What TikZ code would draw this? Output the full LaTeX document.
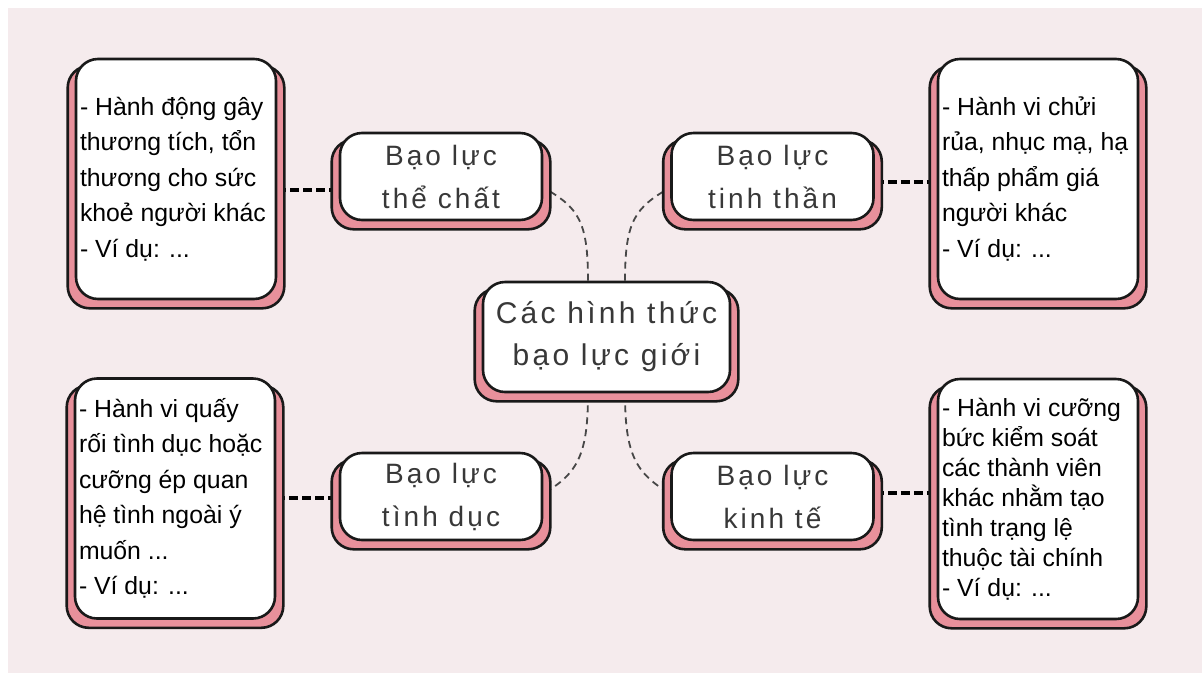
\documentclass[tikz,border=0pt]{standalone}
\usepackage{fontspec}
\setmainfont{Liberation Sans}
\newfontfamily\headfont[LetterSpace=11]{Liberation Sans}
\usetikzlibrary{backgrounds}

\definecolor{pagepink}{HTML}{F5EBED}
\definecolor{shadepink}{HTML}{E8909B}
\definecolor{headgray}{HTML}{383838}

\tikzset{
  card/.style={draw=black!90, line width=2.6pt, fill=white, rounded corners=22pt},
  note/.style={card, minimum width=200pt, minimum height=240pt, text width=192pt,
    inner xsep=4pt, align=flush left, font=\fontsize{24.8}{35.5}\selectfont},
  topic/.style={card, minimum width=202pt, minimum height=87pt, align=center,
    text=headgray, font=\headfont\fontsize{28}{43}\selectfont},
  backcard/.style={draw=black!90, line width=2.6pt, fill=shadepink, rounded corners=22pt},
  link/.style={line width=3.2pt, dash pattern=on 9pt off 4pt},
  branch/.style={line width=1.8pt, draw=black!72, dash pattern=on 7pt off 5pt},
}

\begin{document}
\begin{tikzpicture}[x=1pt, y=-1pt]
    \useasboundingbox (0,0) rectangle (1202,673);

    % nền
    \begin{scope}[on background layer]
      \fill[white] (0,0) rectangle (1202,673);
      \fill[pagepink] (8,8) rectangle (1202,673);
    \end{scope}

    % chủ đề chính
    \node[topic, minimum width=247pt, minimum height=110pt,
          font=\headfont\fontsize{30}{42}\selectfont] (hub) at (606.5,337)
          {Các hình thức\\bạo lực giới};

    % bốn loại bạo lực
    \node[topic] (t1) at (441,176.5) {Bạo lực\\thể chất};
    \node[topic] (t2) at (772.5,176.5) {Bạo lực\\tinh thần};
    \node[topic] (t3) at (441,496.5) {Bạo lực\\tình dục};
    \node[topic] (t4) at (772.5,496.5) {Bạo lực\\kinh tế};

    % ghi chú
    \node[note] (d1) at (176,179)
      {- Hành động gây\\thương tích, tổn\\thương cho sức\\khoẻ người khác\\- Ví dụ: ...};
    \node[note] (d2) at (1038,179)
      {- Hành vi chửi\\rủa, nhục mạ, hạ\\thấp phẩm giá\\người khác\\- Ví dụ: ...};
    \node[note] (d3) at (175,498.5)
      {- Hành vi quấy\\rối tình dục hoặc\\cưỡng ép quan\\hệ tình ngoài ý\\muốn ...\\- Ví dụ: ...};
    \node[note, font=\fontsize{24.8}{30}\selectfont] (d4) at (1038,499)
      {- Hành vi cưỡng\\bức kiểm soát\\các thành viên\\khác nhằm tạo\\tình trạng lệ\\thuộc tài chính\\- Ví dụ: ...};

    % điểm nối
    \coordinate (l1) at ([shift={(0,11)}]d1.east);
    \coordinate (l2) at ([shift={(0,5.5)}]t2.east);
    \coordinate (l3) at ([shift={(0,-0.5)}]d3.east);
    \coordinate (l4) at ([shift={(0,-3.5)}]t4.east);

    \begin{scope}[on background layer]
      % đường nối với ghi chú
      \draw[link] (l1) -- (l1 -| t1.west);
      \draw[link] (l2) -- (l2 -| d2.west);
      \draw[link] (l3) -- (l3 -| t3.west);
      \draw[link] (l4) -- (l4 -| d4.west);

      % nhánh từ chủ đề chính
      \draw[branch] ([shift={(-18.5,0)}]hub.north) .. controls +(0,-60) and +(35,20) .. ([shift={(0,11)}]t1.east);
      \draw[branch] ([shift={(18.5,0)}]hub.north) .. controls +(0,-60) and +(-35,20) .. ([shift={(0,11)}]t2.west);
      \draw[branch] ([shift={(-18.5,0)}]hub.south) .. controls +(0,60) and +(35,-20) .. ([shift={(0,-3)}]t3.east);
      \draw[branch] ([shift={(18.5,0)}]hub.south) .. controls +(0,60) and +(-35,-20) .. ([shift={(0,-3)}]t4.west);

      % lớp hồng phía sau mỗi khung
      \foreach \n in {hub,t1,t2,t3,t4,d1,d2,d3,d4} {
        \draw[backcard] ([shift={(-7,8)}]\n.north west) rectangle ([shift={(7,8)}]\n.south east);
      }
    \end{scope}
\end{tikzpicture}
\end{document}
